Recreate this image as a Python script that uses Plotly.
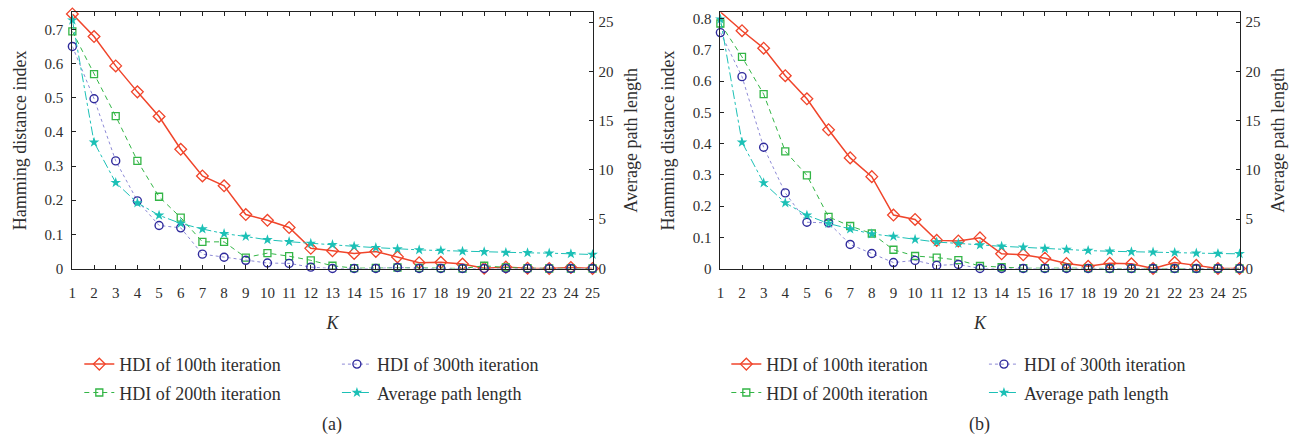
import plotly.graph_objects as go

K = list(range(1, 26))
K_TICKS = [str(k) for k in K]

# Panel (a)
hdi100_a = [0.745, 0.679, 0.593, 0.517, 0.445, 0.349, 0.271, 0.242, 0.158, 0.141,
            0.120, 0.059, 0.052, 0.044, 0.050, 0.034, 0.017, 0.018, 0.013, 0.001,
            0.004, 0.001, 0.000, 0.003, 0.000]
hdi200_a = [0.694, 0.569, 0.446, 0.315, 0.210, 0.149, 0.078, 0.078, 0.032, 0.045,
            0.036, 0.024, 0.008, 0.001, 0.002, 0.003, 0.002, 0.001, 0.000, 0.008,
            0.003, 0.001, 0.000, 0.000, 0.000]
hdi300_a = [0.650, 0.497, 0.315, 0.198, 0.126, 0.119, 0.042, 0.033, 0.024, 0.016,
            0.015, 0.004, 0.000, 0.000, 0.000, 0.003, 0.000, 0.000, 0.000, 0.000,
            0.000, 0.000, 0.000, 0.000, 0.000]
apl_a = [25.2, 12.81, 8.71, 6.66, 5.40, 4.57, 4.01, 3.54, 3.25, 2.91,
         2.72, 2.55, 2.42, 2.25, 2.12, 1.99, 1.89, 1.82, 1.75, 1.69,
         1.62, 1.59, 1.56, 1.49, 1.42]

# Panel (b)
hdi100_b = [0.821, 0.761, 0.705, 0.617, 0.543, 0.444, 0.354, 0.294, 0.171, 0.157,
            0.090, 0.088, 0.098, 0.047, 0.044, 0.033, 0.016, 0.007, 0.017, 0.015,
            0.000, 0.019, 0.010, 0.000, 0.000]
hdi200_b = [0.784, 0.677, 0.558, 0.375, 0.298, 0.165, 0.136, 0.112, 0.060, 0.040,
            0.035, 0.027, 0.008, 0.004, 0.001, 0.001, 0.002, 0.001, 0.000, 0.000,
            0.000, 0.000, 0.000, 0.000, 0.000]
hdi300_b = [0.755, 0.614, 0.388, 0.242, 0.148, 0.146, 0.077, 0.048, 0.019, 0.026,
            0.010, 0.013, 0.000, 0.000, 0.000, 0.000, 0.000, 0.000, 0.000, 0.000,
            0.000, 0.000, 0.000, 0.000, 0.000]
apl_b = [25.3, 12.81, 8.68, 6.66, 5.40, 4.57, 4.01, 3.51, 3.25, 2.95,
         2.68, 2.55, 2.38, 2.25, 2.15, 2.02, 1.92, 1.82, 1.75, 1.69,
         1.66, 1.62, 1.56, 1.52, 1.49]

NAMES = ["HDI of 100th iteration", "HDI of 200th iteration",
         "HDI of 300th iteration", "Average path length"]
PANEL_LABELS = ["(a)", "(b)"]

FONT = "Liberation Serif"
TEXT = "#2e2e2e"
RED, GREEN, BLUE, BLUE_LINE, CYAN = "#f0452b", "#33b546", "#2f2a9c", "#8d8ad6", "#1cc0b6"

W, H = 1310, 447


def px(x):
    return x / W


def py(y):
    return 1 - y / H


fig = go.Figure()

panels = [
    dict(hdi=(hdi100_a, hdi200_a, hdi300_a), apl=apl_a, xa="x", ya="y", ya2="y2",
         legends=("legend", "legend2")),
    dict(hdi=(hdi100_b, hdi200_b, hdi300_b), apl=apl_b, xa="x2", ya="y3", ya2="y4",
         legends=("legend3", "legend4")),
]

for p in panels:
    h100, h200, h300 = p["hdi"]
    l1, l2 = p["legends"]
    fig.add_trace(go.Scatter(
        x=K, y=h100, name=NAMES[0], xaxis=p["xa"], yaxis=p["ya"], legend=l1,
        legendgroup=l1 + "a", mode="lines+markers", cliponaxis=False,
        line=dict(color=RED, width=1.5),
        marker=dict(symbol="diamond-open", size=9, color=RED, line=dict(width=1.3))))
    fig.add_trace(go.Scatter(
        x=K, y=h200, name=NAMES[1], xaxis=p["xa"], yaxis=p["ya"], legend=l1,
        legendgroup=l1 + "b", mode="lines+markers", cliponaxis=False,
        line=dict(color=GREEN, width=1, dash="5px,4px"),
        marker=dict(symbol="square-open", size=7, color=GREEN, line=dict(width=1.3))))
    fig.add_trace(go.Scatter(
        x=K, y=h300, name=NAMES[2], xaxis=p["xa"], yaxis=p["ya"], legend=l2,
        legendgroup=l2 + "a", mode="lines+markers", cliponaxis=False,
        line=dict(color=BLUE_LINE, width=1, dash="dot"),
        marker=dict(symbol="circle-open", size=8, color=BLUE, line=dict(width=1.4))))
    fig.add_trace(go.Scatter(
        x=K, y=p["apl"], name=NAMES[3], xaxis=p["xa"], yaxis=p["ya2"], legend=l2,
        legendgroup=l2 + "b", mode="lines+markers", cliponaxis=False,
        line=dict(color=CYAN, width=1, dash="dashdot"),
        marker=dict(symbol="star", size=8, color=CYAN)))

tickfont = dict(family=FONT, size=15, color=TEXT)
titlefont = dict(family=FONT, size=18, color=TEXT)

xbase = dict(range=[1, 25], tickmode="array", tickvals=K, ticktext=K_TICKS,
             ticks="inside", ticklen=4, tickcolor="#222", showline=True,
             linecolor="#222", linewidth=1, mirror="ticks", showgrid=False,
             zeroline=False, tickfont=tickfont, ticklabelstandoff=10,
             title=dict(text="<i>K</i>", font=titlefont, standoff=16))
ybase = dict(ticks="inside", ticklen=4, tickcolor="#222", showline=True,
             linecolor="#222", linewidth=1, showgrid=False, zeroline=False,
             tickfont=tickfont, ticklabelstandoff=5,
             title=dict(text="Hamming distance index", font=titlefont, standoff=13))
y2base = dict(range=[0, 26], tickvals=[0, 5, 10, 15, 20, 25], side="right",
              ticks="inside", ticklen=4, tickcolor="#222", showline=True,
              linecolor="#222", linewidth=1, showgrid=False, zeroline=False,
              tickfont=tickfont, ticklabelstandoff=2,
              title=dict(text="Average path length", font=titlefont, standoff=11))

ydom = [py(273), py(11.5)]
fig.update_layout(
    width=W, height=H, margin=dict(l=0, r=0, t=0, b=0),
    paper_bgcolor="white", plot_bgcolor="white",
    font=dict(family=FONT, color=TEXT),
    xaxis=dict(xbase, domain=[px(69), px(594)], anchor="y"),
    xaxis2=dict(xbase, domain=[px(723), px(1247)], anchor="y3"),
    yaxis=dict(ybase, domain=ydom, range=[0, 0.75], dtick=0.1, anchor="x"),
    yaxis2=dict(y2base, domain=ydom, overlaying="y", anchor="x"),
    yaxis3=dict(ybase, domain=ydom, range=[0, 0.82], dtick=0.1, anchor="x2"),
    yaxis4=dict(y2base, domain=ydom, overlaying="y3", anchor="x2"),
    showlegend=True,
)

legend_style = dict(font=dict(family=FONT, size=18, color=TEXT), bgcolor="rgba(0,0,0,0)",
                    orientation="v", yanchor="top", xanchor="left",
                    tracegroupgap=2, itemwidth=30, y=py(352))
fig.update_layout(
    legend=dict(legend_style, x=px(76)),
    legend2=dict(legend_style, x=px(336)),
    legend3=dict(legend_style, x=px(729)),
    legend4=dict(legend_style, x=px(989)),
)

for label, cx in zip(PANEL_LABELS, [331, 985]):
    fig.add_annotation(text=label, x=px(cx), y=py(432), xref="paper", yref="paper",
                       showarrow=False, font=dict(family=FONT, size=18, color=TEXT),
                       xanchor="center", yanchor="middle")

fig.write_html("out.html")
